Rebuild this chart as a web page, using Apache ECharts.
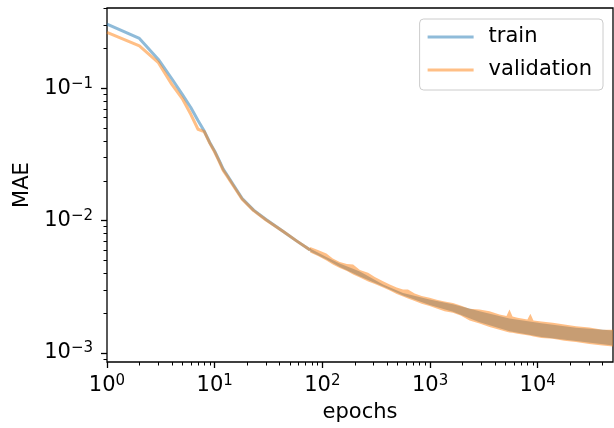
<!DOCTYPE html>
<html>
<head>
<meta charset="utf-8">
<script src="https://cdn.jsdelivr.net/npm/echarts@6/dist/echarts.min.js"></script>
<style>html,body{margin:0;padding:0;background:#fff;}#c{width:614px;height:428px;}</style>
</head>
<body>
<div id="c"></div>
<script>
// ---- data ----
var lineEpochs = [1, 2, 3, 4, 5, 6, 7, 8, 9, 10, 11, 12, 13, 15, 18, 23, 30, 43, 58, 77];
var trainLine = [0.305, 0.238, 0.165, 0.118, 0.090, 0.0715, 0.057, 0.0475, 0.039, 0.0335, 0.0285, 0.0245, 0.0222, 0.0185, 0.0147, 0.0120, 0.0102, 0.0083, 0.0070, 0.0060];
var valLine = [0.264, 0.209, 0.156, 0.107, 0.0836, 0.0636, 0.049, 0.047, 0.0385, 0.033, 0.028, 0.024, 0.0218, 0.0182, 0.0145, 0.0119, 0.0101, 0.0083, 0.0070, 0.0060];

// noisy region: envelope (upper / lower) of each curve
var valBandEpochs = [77, 91, 109, 125, 145, 169, 193, 223, 266, 307, 366, 423, 490, 561, 624, 720, 836, 991, 1151, 1365, 1630, 1922, 2330, 2884, 3568, 4413, 5129, 5465, 5833, 6486, 8017, 8551, 9120, 10818, 13772, 17669, 22692, 30141, 39994, 50000];
var valUpper = [0.00632, 0.00600, 0.00565, 0.00518, 0.00487, 0.00471, 0.00466, 0.00424, 0.00404, 0.00375, 0.00349, 0.00329, 0.00312, 0.00302, 0.00302, 0.00281, 0.00269, 0.00261, 0.00253, 0.00245, 0.00239, 0.00228, 0.00216, 0.00213, 0.00207, 0.00195, 0.00190, 0.00213, 0.00189, 0.00185, 0.00179, 0.00198, 0.00176, 0.00173, 0.00169, 0.00164, 0.00159, 0.00156, 0.00150, 0.00150];
var valLower = [0.00575, 0.00541, 0.00500, 0.00466, 0.00439, 0.00416, 0.00392, 0.00372, 0.00347, 0.00332, 0.00312, 0.00296, 0.00279, 0.00267, 0.00258, 0.00247, 0.00236, 0.00226, 0.00217, 0.00207, 0.00201, 0.00192, 0.00176, 0.00167, 0.00157, 0.00150, 0.00145, 0.00143, 0.00142, 0.00140, 0.00136, 0.00135, 0.00133, 0.00130, 0.00128, 0.00124, 0.00121, 0.00117, 0.00114, 0.00112];
var trainBandEpochs = [77, 109, 145, 223, 366, 561, 991, 1630, 2884, 5465, 10818, 22692, 50000];
var trainUpper = [0.00616, 0.00531, 0.00474, 0.00413, 0.00329, 0.00284, 0.00254, 0.00233, 0.00207, 0.00182, 0.00168, 0.00155, 0.00148];
var trainLower = [0.00585, 0.00509, 0.00447, 0.00378, 0.00318, 0.00272, 0.00230, 0.00205, 0.00171, 0.00146, 0.00132, 0.00123, 0.00114];

// axes
var xMin = 1, xMax = 50000, yMin = 0.000855, yMax = 0.404;
var xMajor = [1, 10, 100, 1000, 10000];
var xMajorExp = ['0', '1', '2', '3', '4'];
var xMinor = [2,3,4,5,6,7,8,9,20,30,40,50,60,70,80,90,200,300,400,500,600,700,800,900,2000,3000,4000,5000,6000,7000,8000,9000,20000,30000,40000];
var yMajor = [0.001, 0.01, 0.1];
var yMajorExp = ['\u22123', '\u22122', '\u22121'];
var yMinor = [0.0009,0.002,0.003,0.004,0.005,0.006,0.007,0.008,0.009,0.02,0.03,0.04,0.05,0.06,0.07,0.08,0.09,0.2,0.3,0.4];

var FONT = 'DejaVu Sans';
var TRAIN_C = 'rgba(31,119,180,0.5)', VAL_C = 'rgba(255,127,14,0.5)';

function expLabel(values, exps) {
  return function (v) {
    for (var i = 0; i < values.length; i++) {
      if (Math.abs(Math.log10(v) - Math.log10(values[i])) < 1e-6) return '{b|10}{s|' + exps[i] + '}';
    }
    return '';
  };
}
var rich = {
  b: { fontFamily: FONT, fontSize: 21, color: '#000', lineHeight: 24 },
  s: { fontFamily: FONT, fontSize: 15, color: '#000', verticalAlign: 'top', lineHeight: 15 }
};

function pairs(xs, ys) { return xs.map(function (x, i) { return [x, ys[i]]; }); }

function band(epochs, upper, lower, color) {
  return function (params, api) {
    var pts = [];
    for (var i = 0; i < epochs.length; i++) pts.push(api.coord([epochs[i], upper[i]]));
    for (var j = epochs.length - 1; j >= 0; j--) pts.push(api.coord([epochs[j], lower[j]]));
    return { type: 'polygon', shape: { points: pts }, style: { fill: color }, silent: true };
  };
}

var chart = echarts.init(document.getElementById('c'), null, { renderer: 'canvas' });
chart.setOption({
  animation: false,
  backgroundColor: '#fff',
  grid: { left: 107, right: 1, top: 8, bottom: 66, show: true, borderColor: '#000', borderWidth: 1.3, backgroundColor: 'transparent' },
  legend: {
    orient: 'vertical', right: 11, top: 19,
    itemWidth: 46, itemHeight: 3, itemGap: 9,
    padding: [6, 11, 8, 8],
    borderColor: '#cccccc', borderWidth: 1, borderRadius: 4,
    backgroundColor: 'rgba(255,255,255,0.8)',
    textStyle: { fontFamily: FONT, fontSize: 21, color: '#000', lineHeight: 24, padding: [0, 0, 0, 10] },
    data: [
      { name: 'train', icon: 'rect', itemStyle: { color: '#8fbbd9' } },
      { name: 'validation', icon: 'rect', itemStyle: { color: '#ffbf86' } }
    ]
  },
  xAxis: [
    { type: 'log', logBase: 10, min: xMin, max: xMax, position: 'bottom',
      name: 'epochs', nameLocation: 'middle', nameGap: 40,
      nameTextStyle: { fontFamily: FONT, fontSize: 21, color: '#000' },
      axisLine: { show: false },
      axisTick: { show: true, length: 6, lineStyle: { color: '#000', width: 1.3 }, customValues: xMajor },
      axisLabel: { customValues: xMajor, formatter: expLabel(xMajor, xMajorExp), rich: rich, margin: 12 },
      splitLine: { show: false }, minorTick: { show: false } },
    { type: 'log', logBase: 10, min: xMin, max: xMax, position: 'bottom',
      axisLine: { show: false },
      axisTick: { show: true, length: 3.5, lineStyle: { color: '#000', width: 1 }, customValues: xMinor },
      axisLabel: { show: false }, splitLine: { show: false } }
  ],
  yAxis: [
    { type: 'log', logBase: 10, min: yMin, max: yMax, position: 'left',
      name: 'MAE', nameLocation: 'middle', nameGap: 71, nameRotate: 90,
      nameTextStyle: { fontFamily: FONT, fontSize: 21, color: '#000' },
      axisLine: { show: false },
      axisTick: { show: true, length: 6, lineStyle: { color: '#000', width: 1.3 }, customValues: yMajor },
      axisLabel: { customValues: yMajor, formatter: expLabel(yMajor, yMajorExp), rich: rich, margin: 14 },
      splitLine: { show: false } },
    { type: 'log', logBase: 10, min: yMin, max: yMax, position: 'left',
      axisLine: { show: false },
      axisTick: { show: true, length: 3.5, lineStyle: { color: '#000', width: 1 }, customValues: yMinor },
      axisLabel: { show: false }, splitLine: { show: false } }
  ],
  series: [
    { name: 'train', type: 'line', xAxisIndex: 0, yAxisIndex: 0, data: pairs(lineEpochs, trainLine),
      showSymbol: false, symbol: 'none', itemStyle: { color: '#8fbbd9' },
      lineStyle: { color: TRAIN_C, width: 3, join: 'round' }, z: 2 },
    { name: 'train', type: 'custom', xAxisIndex: 0, yAxisIndex: 0, coordinateSystem: 'cartesian2d',
      data: [[trainBandEpochs[0], trainUpper[0]]], renderItem: band(trainBandEpochs, trainUpper, trainLower, TRAIN_C),
      itemStyle: { color: '#8fbbd9' }, clip: true, z: 2 },
    { name: 'validation', type: 'line', xAxisIndex: 0, yAxisIndex: 0, data: pairs(lineEpochs, valLine),
      showSymbol: false, symbol: 'none', itemStyle: { color: '#ffbf86' },
      lineStyle: { color: VAL_C, width: 3, join: 'round' }, z: 3 },
    { name: 'validation', type: 'custom', xAxisIndex: 0, yAxisIndex: 0, coordinateSystem: 'cartesian2d',
      data: [[valBandEpochs[0], valUpper[0]]], renderItem: band(valBandEpochs, valUpper, valLower, VAL_C),
      itemStyle: { color: '#ffbf86' }, clip: true, z: 3 }
  ]
});
</script>
</body>
</html>
